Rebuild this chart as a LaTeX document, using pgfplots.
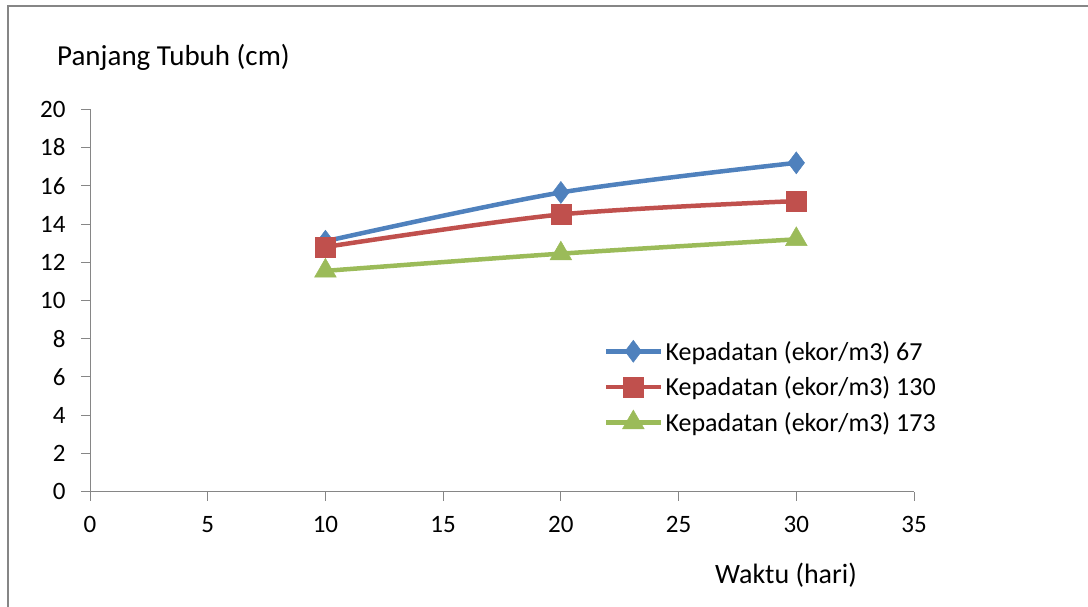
\documentclass[border=0pt]{standalone}
\usepackage{pgfplots}
\pgfplotsset{compat=1.18}
\usepackage{fontspec}
\setmainfont{Carlito}

\definecolor{xlblue}{HTML}{4F81BD}
\definecolor{xlred}{HTML}{C0504D}
\definecolor{xlgreen}{HTML}{9BBB59}
\definecolor{xlgrey}{HTML}{868686}

\begin{document}
\begin{tikzpicture}
\useasboundingbox (0pt,0pt) rectangle (1088pt,606pt);
% chart frame (only left and top edges are visible)
\draw[xlgrey, line width=2pt] (8pt,-5pt) -- (8pt,600pt) -- (1095pt,600pt);

\begin{axis}[
    at={(90pt,114.3pt)}, anchor=south west,
    scale only axis,
    width=824pt, height=382.4pt,
    xmin=0, xmax=35, ymin=0, ymax=20,
    xtick={0,5,...,35}, ytick={0,2,...,20},
    axis x line*=bottom, axis y line*=left,
    axis line style={xlgrey, line width=1pt, -},
    tick style={xlgrey, line width=1pt},
    tick align=outside, major tick length=9pt,
    every tick label/.append style={font=\fontsize{25}{29}\selectfont, text=black},
    xticklabel style={yshift=-12pt},
    yticklabel style={xshift=-12pt},
    /pgf/number format/assume math mode=true,
    clip=false,
    legend style={draw=none, fill=none, at={(0.62,0.405)}, anchor=north west,
        font=\fontsize{26}{30}\selectfont, row sep=11pt,
        /tikz/every even column/.append style={column sep=2pt}},
    legend cell align=left,
    legend image code/.code={%
        \draw[mark repeat=2,mark phase=2] plot coordinates {(0pt,0pt) (27pt,0pt) (55pt,0pt)};},
]
\addplot[xlblue, line width=4.5pt, smooth, mark=diamond*, mark size=11pt,
    mark options={solid, line width=0.5pt}] coordinates {(10,13.1) (20,15.65) (30,17.2)};
\addlegendentry{Kepadatan (ekor/m3) 67}
\addplot[xlred, line width=4.5pt, smooth, mark=square*, mark size=10pt,
    mark options={solid, line width=0.5pt}] coordinates {(10,12.8) (20,14.5) (30,15.2)};
\addlegendentry{Kepadatan (ekor/m3) 130}
\addplot[xlgreen, line width=4.5pt, smooth, mark=triangle*, mark size=12.5pt,
    mark options={solid, line width=0.5pt}] coordinates {(10,11.55) (20,12.45) (30,13.2)};
\addlegendentry{Kepadatan (ekor/m3) 173}
\end{axis}

\node[anchor=west, font=\fontsize{29}{34}\selectfont, inner sep=0pt] at (57pt,549pt) {Panjang Tubuh (cm)};
\node[anchor=west, font=\fontsize{28}{33}\selectfont, inner sep=0pt] at (715pt,31pt) {Waktu (hari)};
\end{tikzpicture}
\end{document}
